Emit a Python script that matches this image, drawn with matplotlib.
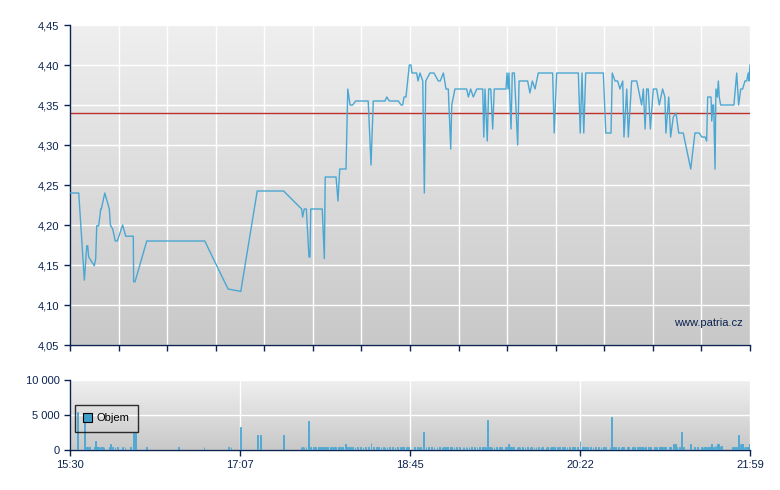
import numpy as np
import matplotlib
matplotlib.use('Agg')
import matplotlib.pyplot as plt
from matplotlib.colors import LinearSegmentedColormap
from matplotlib.patches import Patch

# minutes after 15:30 and price
price_min = [0.4, 5.0, 8.2, 9.6, 10.1, 10.7, 13.9, 14.7, 15.3, 16.4, 17.6, 17.9, 19.9, 22.5,
             23.1, 24.4, 25.9, 27.1, 30.1, 31.9, 36.2, 36.4, 37.2, 43.9, 77.1, 90.4, 97.7,
             107.1, 122.2, 132.5, 133.1, 134.0, 135.2, 136.7, 137.3, 137.7, 144.3, 145.5,
             146.0, 152.2, 153.3, 154.3, 157.9, 158.9, 160.2, 161.7, 163.4, 170.6, 172.2,
             173.5, 180.2, 181.2, 182.7, 187.8, 189.4, 190.3, 191.1, 192.2, 194.1, 195.1,
             195.6, 198.3, 199.1, 200.2, 201.8, 202.7, 203.5, 205.9, 208.2, 210.7, 211.8,
             213.6, 215.1, 216.4, 217.8, 218.4, 220.2, 226.9, 227.9, 229.2, 230.7, 232.7,
             236.1, 236.7, 237.4, 238.7, 239.5, 240.7, 241.8, 242.7, 249.4, 250.0, 250.6,
             251.1, 252.3, 253.0, 254.2, 256.1, 256.9, 261.8, 263.1, 264.5, 266.0, 267.9,
             276.1, 277.0, 278.4, 290.8, 291.9, 292.9, 293.9, 295.0, 305.1, 306.5, 309.5,
             310.2, 311.8, 313.3, 314.6, 316.2, 316.9, 318.5, 319.4, 321.3, 324.2, 327.0,
             328.0, 329.0, 329.9, 330.8, 332.0, 333.7, 335.6, 337.1, 339.0, 340.3, 340.9,
             342.5, 343.6, 345.1, 346.7, 348.2, 350.8, 355.1, 357.5, 360.0, 361.4, 363.3,
             364.2, 364.8, 366.7, 367.1, 367.7, 368.2, 369.0, 369.5, 370.3, 370.9, 371.4,
             372.2, 379.8, 381.4, 382.5, 383.7, 384.8, 386.1, 387.1, 388.0, 388.4, 389.0]
price_val = [4.24, 4.24, 4.131, 4.174, 4.174, 4.16, 4.149, 4.158, 4.199, 4.199, 4.22, 4.22,
             4.24, 4.22, 4.20, 4.195, 4.18, 4.18, 4.20, 4.186, 4.186, 4.129, 4.129, 4.18,
             4.18, 4.12, 4.117, 4.2425, 4.2425, 4.22, 4.21, 4.22, 4.22, 4.16, 4.16, 4.22,
             4.22, 4.158, 4.26, 4.26, 4.23, 4.27, 4.27, 4.37, 4.35, 4.35, 4.355, 4.355,
             4.275, 4.355, 4.355, 4.36, 4.355, 4.355, 4.35, 4.35, 4.36, 4.36, 4.40, 4.40,
             4.39, 4.39, 4.38, 4.39, 4.38, 4.24, 4.38, 4.39, 4.39, 4.38, 4.38, 4.39, 4.37,
             4.37, 4.295, 4.35, 4.37, 4.37, 4.36, 4.37, 4.36, 4.37, 4.37, 4.31, 4.37,
             4.305, 4.37, 4.37, 4.32, 4.37, 4.37, 4.39, 4.37, 4.39, 4.32, 4.39, 4.39, 4.30,
             4.38, 4.38, 4.365, 4.38, 4.37, 4.39, 4.39, 4.315, 4.39, 4.39, 4.315, 4.39,
             4.315, 4.39, 4.39, 4.315, 4.315, 4.39, 4.38, 4.38, 4.37, 4.38, 4.31, 4.37,
             4.31, 4.38, 4.38, 4.35, 4.37, 4.32, 4.37, 4.37, 4.32, 4.37, 4.37, 4.35, 4.37,
             4.36, 4.315, 4.36, 4.31, 4.335, 4.34, 4.315, 4.315, 4.27, 4.315, 4.315, 4.31,
             4.31, 4.305, 4.36, 4.36, 4.33, 4.35, 4.35, 4.27, 4.37, 4.36, 4.38, 4.36, 4.35,
             4.35, 4.39, 4.35, 4.37, 4.37, 4.38, 4.38, 4.39, 4.38, 4.40]
prev_close = 4.34

vol_min = [4.4, 8.2, 9.5, 10.1, 11.0, 13.9, 14.5, 15.1, 15.8, 16.4, 17.2, 17.9, 18.7, 19.5,
           22.5, 23.1, 24.2, 25.7, 27.1, 29.9, 31.5, 34.7, 36.2, 37.4, 43.7, 62.0, 76.7,
           90.6, 92.1, 97.4, 107.4, 108.9, 122.0,
           132.1, 132.9, 133.9, 135.0, 136.5, 137.7, 139.2, 140.3, 142.1, 143.2, 144.3,
           145.5, 146.3, 147.4, 148.9, 150.1, 151.2, 152.0, 153.5, 154.6, 155.8, 157.7,
           158.3, 159.2, 160.3, 161.5, 163.0, 164.6, 166.1, 167.6, 169.2, 170.6, 172.2,
           173.7, 175.2, 176.4, 177.9, 179.5, 180.2, 181.3, 182.9, 184.4, 185.9, 187.5,
           189.0, 190.1, 190.9, 192.4, 193.5, 197.0, 198.9, 199.6, 200.6, 202.3, 203.7,
           205.2, 206.7, 208.2, 209.9, 211.5, 212.8, 213.5, 214.7, 216.1, 217.6, 218.4,
           219.7, 221.2, 222.7, 224.8, 225.4, 226.5, 227.1, 228.3, 229.8, 231.3, 232.8,
           234.4, 235.9, 237.2, 238.0, 238.7, 239.9, 240.7, 241.4, 242.6, 244.1, 245.6,
           246.9, 249.0, 249.8, 250.7, 251.9, 252.5, 253.6, 255.7, 256.5, 257.4, 258.7,
           260.3, 261.8,
           263.2, 264.1, 265.4, 266.6, 267.9, 269.4, 270.4, 272.3, 273.2, 274.6, 275.3,
           276.1, 277.0, 278.8, 279.9, 281.6, 282.8, 284.3, 285.6, 287.3, 288.5, 290.2,
           291.8, 293.1, 293.6, 294.8, 296.1, 297.7, 299.2, 300.7, 302.2, 303.8, 305.3,
           306.5, 308.9, 309.7, 310.8, 312.2, 313.7, 315.2, 315.9, 316.5, 318.8, 319.6,
           321.7, 323.0, 324.5, 325.7, 326.8, 327.6, 328.4, 329.1, 330.8, 332.0, 334.3,
           335.4, 337.1, 337.7, 338.5, 339.0, 340.0, 340.8, 342.8, 343.6, 345.1, 346.3,
           347.0, 348.6, 349.7, 350.8, 354.8, 357.1, 359.1, 361.4, 362.1, 362.9, 363.4,
           364.6, 365.7, 366.5, 366.9, 368.0, 369.0, 369.5, 370.3, 371.1, 371.8, 372.6,
           378.9, 380.0, 381.4, 382.3, 383.3, 384.0, 384.8, 385.6, 386.5, 387.5, 388.3,
           388.6]
vol_val = [5470, 4500, 430, 430, 430, 430, 1340, 430, 430, 430, 430, 430, 430, 430,
           430, 860, 430, 430, 430, 430, 430, 430, 2400, 2400, 430, 430, 430,
           430, 430, 3300, 2160, 2160, 2160,
           430, 430, 430, 430, 4180, 430, 430, 430, 430, 430, 430,
           430, 430, 430, 430, 430, 430, 430, 430, 430, 430, 860,
           430, 430, 430, 430, 430, 430, 430, 430, 430, 430, 1000,
           430, 430, 430, 430, 430, 430, 430, 430, 430, 430, 430,
           430, 430, 430, 430, 430, 430, 430, 430, 430, 2600, 430,
           430, 430, 430, 430, 430, 430, 430, 430, 430, 430, 430,
           430, 430, 430, 430, 430, 430, 430, 430, 430, 430, 430,
           430, 430, 430, 430, 4320, 430, 430, 430, 430, 430, 430,
           430, 430, 430, 860, 430, 430, 430, 430, 430, 430, 430,
           430, 430,
           430, 430, 430, 430, 430, 430, 430, 430, 430, 430, 430,
           430, 430, 430, 430, 430, 430, 430, 430, 430, 430, 430,
           1300, 430, 430, 430, 430, 430, 430, 430, 430, 430, 430,
           430, 430, 4750, 430, 430, 430, 430, 430, 430, 430, 430,
           430, 430, 430, 430, 430, 430, 430, 430, 430, 430, 430,
           430, 430, 430, 430, 430, 430, 430, 430, 430, 860, 860,
           430, 430, 2600, 430, 860, 430, 430, 430, 430, 430, 430,
           430, 430, 430, 860, 430, 580, 580, 860, 860, 580, 580,
           430, 430, 430, 2160, 860, 860, 860, 430, 430, 430, 430,
           860]

time_labels = ['15:30', '17:07', '18:45', '20:22', '21:59']
price_ticks = [4.05, 4.10, 4.15, 4.20, 4.25, 4.30, 4.35, 4.40, 4.45]
vol_ticks = [0, 5000, 10000]
vol_tick_labels = ['0', '5 000', '10 000']

session_len = 389
navy = '#0b2350'
blue = '#4aa7d3'
grad = LinearSegmentedColormap.from_list('bg', ['#c8c8c8', '#efefef'])

plt.rcParams['font.family'] = ['Liberation Sans', 'DejaVu Sans']
plt.rcParams['font.size'] = 8

fig = plt.figure(figsize=(7.8, 4.9), dpi=100)
ax = fig.add_axes([70 / 780, 1 - 345 / 490, 680 / 780, 320 / 490])
axv = fig.add_axes([70 / 780, 1 - 450 / 490, 680 / 780, 70 / 490])


def style(a):
    for s in ('top', 'right'):
        a.spines[s].set_visible(False)
    for s in ('left', 'bottom'):
        a.spines[s].set_color(navy)
        a.spines[s].set_linewidth(1.0)
    a.tick_params(colors=navy, length=4, width=1, direction='out', labelsize=8)
    a.grid(True, color='white', linewidth=1.0)
    a.set_axisbelow(True)


# price panel
ax.imshow(np.linspace(0, 1, 256)[:, None], extent=[0, session_len, 4.05, 4.45],
          origin='lower', aspect='auto', cmap=grad, zorder=0)
ax.set_xlim(0, session_len)
ax.set_ylim(4.05, 4.45)
style(ax)
ax.set_yticks(price_ticks)
ax.set_yticklabels([f'{v:.2f}'.replace('.', ',') for v in price_ticks])
ax.set_xticks(np.linspace(0, session_len, 15))
ax.set_xticklabels([])
ax.axhline(prev_close, color='#c0302a', linewidth=1.0, zorder=2)
ax.plot(price_min, price_val, color=blue, linewidth=1.0, zorder=3)
ax.text(0.99, 0.07, 'www.patria.cz', transform=ax.transAxes, ha='right', va='center',
        color=navy, fontsize=8, zorder=4)

# volume panel
axv.imshow(np.linspace(0, 1, 256)[:, None], extent=[0, session_len, 0, 10000],
           origin='lower', aspect='auto', cmap=grad, zorder=0)
axv.set_xlim(0, session_len)
axv.set_ylim(0, 10000)
style(axv)
axv.set_yticks(vol_ticks)
axv.set_yticklabels(vol_tick_labels)
axv.set_xticks(np.linspace(0, session_len, 5))
axv.set_xticklabels(time_labels)
axv.bar(vol_min, vol_val, width=0.35, color=blue, edgecolor=blue, linewidth=0.6, zorder=3)
leg = axv.legend(handles=[Patch(facecolor='#3f9fcc', edgecolor='black', linewidth=0.8,
                                label='Objem')],
                 loc='upper left', bbox_to_anchor=(0.007, 0.643), borderaxespad=0,
                 frameon=True, fancybox=False, handlelength=0.8, handleheight=0.8,
                 handletextpad=0.4, borderpad=0.75, fontsize=8)
leg.get_frame().set_edgecolor('black')
leg.get_frame().set_facecolor('none')
leg.get_frame().set_linewidth(1.0)

fig.savefig('out.png', dpi=100)
